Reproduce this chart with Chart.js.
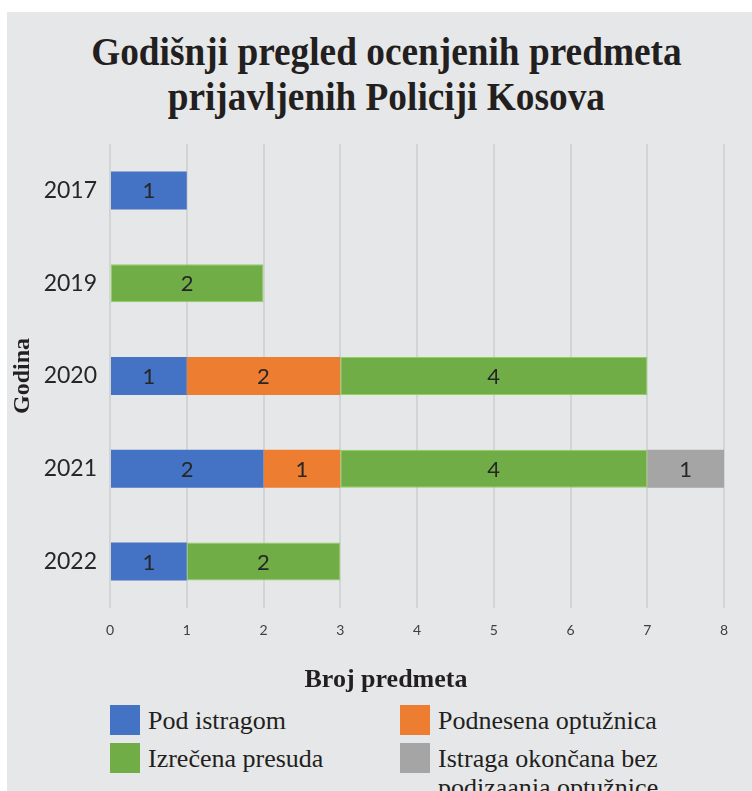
<!DOCTYPE html>
<html>
<head>
<meta charset="utf-8">
<script src="https://cdn.jsdelivr.net/npm/chart.js@4/dist/chart.umd.min.js"></script>
<style>
  body { margin: 0; background: #fff; width: 752px; height: 791px; overflow: hidden; position: relative; }
  #panel { position: absolute; left: 7px; top: 12px; width: 745px; height: 779px; background: #e6e7e8; }
  #title { position: absolute; left: 0; top: 29px; width: 772px; text-align: center;
    font-family: "Liberation Serif", serif; font-weight: bold; font-size: 41px; line-height: 45px; color: #231f20; }
  #title span { display: inline-block; transform: scaleX(0.91); white-space: nowrap; }
  #xtitle { position: absolute; left: 0; top: 664px; width: 772px; text-align: center;
    font-family: "Liberation Serif", serif; font-weight: bold; font-size: 26px; color: #231f20; }
  #wrap { position: absolute; left: 0; top: 0; width: 752px; height: 700px; }
  #legend { position: absolute; left: 110px; top: 705px; width: 640px;
    font-family: "Liberation Serif", serif; font-size: 26px; color: #231f20; }
  .item { position: absolute; display: flex; align-items: flex-start; }
  .box { width: 30px; height: 30px; flex: none; margin-right: 8px; }
  .lbl { line-height: 29px; margin-top: 1px; }
</style>
</head>
<body>
<div id="panel"></div>
<div id="title"><span>Godišnji pregled ocenjenih predmeta</span><br><span>prijavljenih Policiji Kosova</span></div>
<div id="wrap"><canvas id="chart"></canvas></div>
<div id="xtitle">Broj predmeta</div>
<div id="legend"></div>
<script>
const years = ["2017", "2019", "2020", "2021", "2022"];
const podIstragom = [1, null, 1, 2, 1];
const podnesenaOptuznica = [null, null, 2, 1, null];
const izrecenaPresuda = [null, 2, 4, 4, 2];
const bezOptuznice = [null, null, null, 1, null];
const seriesNames = ["Pod istragom", "Podnesena optužnica", "Izrečena presuda", "Istraga okončana bez podizaanja optužnice"];
const seriesColors = ["#4472c4", "#ed7d31", "#70ad47", "#a5a5a5"];

// value labels in the middle of each bar piece
const barLabels = {
  id: "barLabels",
  afterDatasetsDraw(chart) {
    const ctx = chart.ctx;
    ctx.save();
    ctx.font = "22px Lato";
    ctx.fillStyle = "#262626";
    ctx.textAlign = "center";
    ctx.textBaseline = "middle";
    chart.data.datasets.forEach((ds, i) => {
      chart.getDatasetMeta(i).data.forEach((bar, j) => {
        const v = ds.data[j];
        if (v == null) return;
        const p = bar.getProps(["x", "y", "base"], true);
        ctx.fillText(v, (p.x + p.base) / 2, p.y + 1);
      });
    });
    ctx.restore();
  }
};

const datasets = [podIstragom, podnesenaOptuznica, izrecenaPresuda, bezOptuznice].map((d, i) => ({
  label: seriesNames[i],
  data: d,
  backgroundColor: seriesColors[i],
  borderColor: i === 2 ? "#8fd15a" : seriesColors[i],
  borderWidth: i === 2 ? 1 : 0,
  borderSkipped: false,
  barPercentage: 0.41,
  categoryPercentage: 1
}));

new Chart(document.getElementById("chart"), {
  type: "bar",
  data: { labels: years, datasets: datasets },
  options: {
    indexAxis: "y",
    responsive: true,
    maintainAspectRatio: false,
    animation: false,
    layout: { padding: { top: 144, right: 28, left: 0, bottom: 0 } },
    plugins: {
      legend: { display: false },
      tooltip: { enabled: false }
    },
    scales: {
      x: {
        stacked: true,
        min: 0,
        max: 8,
        ticks: { stepSize: 1, color: "#404040", font: { family: "Lato", size: 14 }, padding: 14 },
        grid: { color: "#d3d4d5", lineWidth: 2, drawTicks: false },
        border: { display: false },
        afterFit(s) { s.height = 92; }
      },
      y: {
        stacked: true,
        ticks: { color: "#262626", font: { family: "Lato", size: 23 }, padding: 13 },
        grid: { display: false, drawTicks: false },
        border: { display: false },
        title: { display: true, text: "Godina", color: "#231f20",
          font: { family: "Liberation Serif", size: 24, weight: "bold" }, padding: { top: 8, bottom: 0 } },
        afterFit(s) { s.width = 110; }
      }
    }
  },
  plugins: [barLabels]
});

// legend in two columns
const legend = document.getElementById("legend");
const spots = [[0, 0], [290, 0], [0, 38], [290, 38]];
seriesNames.forEach((name, i) => {
  const el = document.createElement("div");
  el.className = "item";
  el.style.left = spots[i][0] + "px";
  el.style.top = spots[i][1] + "px";
  if (i === 3) el.style.width = "260px";
  el.innerHTML = '<div class="box" style="background:' + seriesColors[i] + '"></div><div class="lbl">' + name + '</div>';
  legend.appendChild(el);
});
</script>
</body>
</html>
